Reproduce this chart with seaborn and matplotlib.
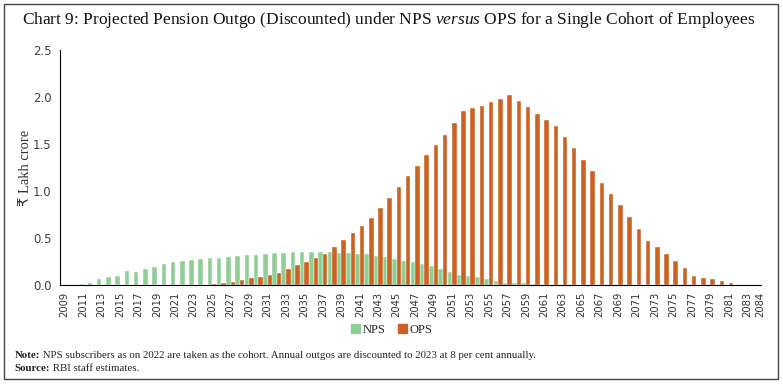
import numpy as np
import pandas as pd
import matplotlib
matplotlib.use("Agg")
import matplotlib.pyplot as plt
import seaborn as sns
from matplotlib.patches import Rectangle

years = list(range(2009, 2085))

nps = [0.0, 0.0, 0.01, 0.025, 0.067, 0.085, 0.10, 0.145, 0.14, 0.175,
       0.19, 0.22, 0.248, 0.26, 0.27, 0.28, 0.285, 0.29, 0.30, 0.31,
       0.32, 0.322, 0.33, 0.337, 0.343, 0.348, 0.354, 0.355, 0.352, 0.35,
       0.345, 0.34, 0.335, 0.33, 0.31, 0.30, 0.28, 0.26, 0.24, 0.225,
       0.20, 0.17, 0.14, 0.11, 0.095, 0.08, 0.065, 0.045, 0.02, 0.02,
       0.017, 0.01, 0.005, 0.0, 0.0, 0.0, 0.0, 0.0, 0.0, 0.0,
       0.0, 0.0, 0.0, 0.0, 0.0, 0.0, 0.0, 0.0, 0.0, 0.0,
       0.0, 0.0, 0.0, 0.0, 0.0, 0.0]

ops = [0.0, 0.0, 0.0, 0.0, 0.0, 0.0, 0.0, 0.0, 0.0, 0.0,
       0.0, 0.0, 0.0, 0.0, 0.003, 0.005, 0.014, 0.02, 0.035, 0.056,
       0.07, 0.09, 0.11, 0.13, 0.175, 0.21, 0.25, 0.29, 0.33, 0.405,
       0.48, 0.555, 0.63, 0.71, 0.82, 0.93, 1.04, 1.16, 1.27, 1.38,
       1.49, 1.60, 1.72, 1.848, 1.88, 1.91, 1.95, 1.98, 2.02, 1.955,
       1.89, 1.82, 1.755, 1.69, 1.57, 1.455, 1.33, 1.21, 1.09, 0.97,
       0.85, 0.72, 0.60, 0.47, 0.40, 0.33, 0.255, 0.18, 0.10, 0.078,
       0.064, 0.043, 0.02, 0.005, 0.0, 0.0]

label_years = list(range(2009, 2084, 2)) + [2084]

df = pd.DataFrame({
    "year": [str(y) for y in years] * 2,
    "value": nps + ops,
    "series": ["NPS"] * len(years) + ["OPS"] * len(years),
})

sns.set_style("white")
plt.rcParams["font.family"] = ["DejaVu Sans"]
plt.rcParams["mathtext.fontset"] = "custom"
plt.rcParams["mathtext.it"] = "Liberation Serif:italic"
plt.rcParams["mathtext.rm"] = "Liberation Serif"

green = "#8fcf95"
orange = "#cb6222"

fig = plt.figure(figsize=(7.83, 3.85), dpi=100)
ax = fig.add_axes([0.0766, 0.2597, 0.8954, 0.6103])

sns.barplot(data=df, x="year", y="value", hue="series", dodge=True,
            palette={"NPS": green, "OPS": orange}, width=0.98,
            saturation=1, ax=ax, legend=False, edgecolor="white", linewidth=0.3)

ax.set_xlim(-0.5, len(years) - 0.5)
ax.set_ylim(0, 2.5)
ax.set_yticks([0, 0.5, 1.0, 1.5, 2.0, 2.5])
ax.set_yticklabels(["0.0", "0.5", "1.0", "1.5", "2.0", "2.5"], fontsize=8.5, color="#404040")
# the last label (2084) sits at the right end of the axis, as in the original
pos = [years.index(y) for y in label_years]
pos[-1] = len(years) - 0.55
ax.set_xticks(pos)
ax.set_xticklabels([str(y) for y in label_years], rotation=90, fontsize=7.2, color="#333333")
ax.set_xticks(np.arange(-0.5, len(years), 1), minor=True)
ax.tick_params(axis="x", which="major", length=0, pad=5)
ax.tick_params(axis="x", which="minor", length=4, width=0.8, direction="out", color="black")
ax.tick_params(axis="y", length=4, width=0.8, direction="out", color="black", pad=2)
ax.set_xlabel("")
ax.set_ylabel("₹ Lakh crore", family=["Liberation Serif", "DejaVu Sans"], fontsize=10.5,
              color="#333333", labelpad=1)
for s in ["top", "right"]:
    ax.spines[s].set_visible(False)
for s in ["left", "bottom"]:
    ax.spines[s].set_color("black")
    ax.spines[s].set_linewidth(0.8)

fig.text(0.497, 0.947,
         "Chart 9: Projected Pension Outgo (Discounted) under NPS $\\it{versus}$ OPS for a Single Cohort of Employees",
         ha="center", va="center", fontsize=12.5, family=["Liberation Serif"], color="#111111")

# legend
h = [Rectangle((0, 0), 1, 1, color=green), Rectangle((0, 0), 1, 1, color=orange)]
fig.legend(h, ["NPS", "OPS"], loc="center", bbox_to_anchor=(0.5, 0.143), ncol=2, frameon=False,
           handlelength=0.7, handleheight=0.7, handletextpad=0.2, columnspacing=1.0,
           prop={"family": "Liberation Serif", "size": 9})

# notes
fig.canvas.draw()
r = fig.canvas.get_renderer()
for yy, bold, rest in [(0.077, "Note:", " NPS subscribers as on 2022 are taken as the cohort. Annual outgos are discounted to 2023 at 8 per cent annually."),
                       (0.042, "Source:", " RBI staff estimates.")]:
    t = fig.text(0.019, yy, bold, fontsize=7.8, fontweight="bold", family="Liberation Serif", va="center", color="#222222")
    bb = t.get_window_extent(renderer=r)
    fig.text(bb.x1 / fig.bbox.width, yy, rest, fontsize=7.8, family="Liberation Serif", va="center", color="#222222")

fig.patches.append(Rectangle((0.005, 0.0156), 0.9885, 0.974, transform=fig.transFigure,
                             fill=False, edgecolor="#444444", linewidth=1.0))

fig.savefig("out.png", dpi=100)
